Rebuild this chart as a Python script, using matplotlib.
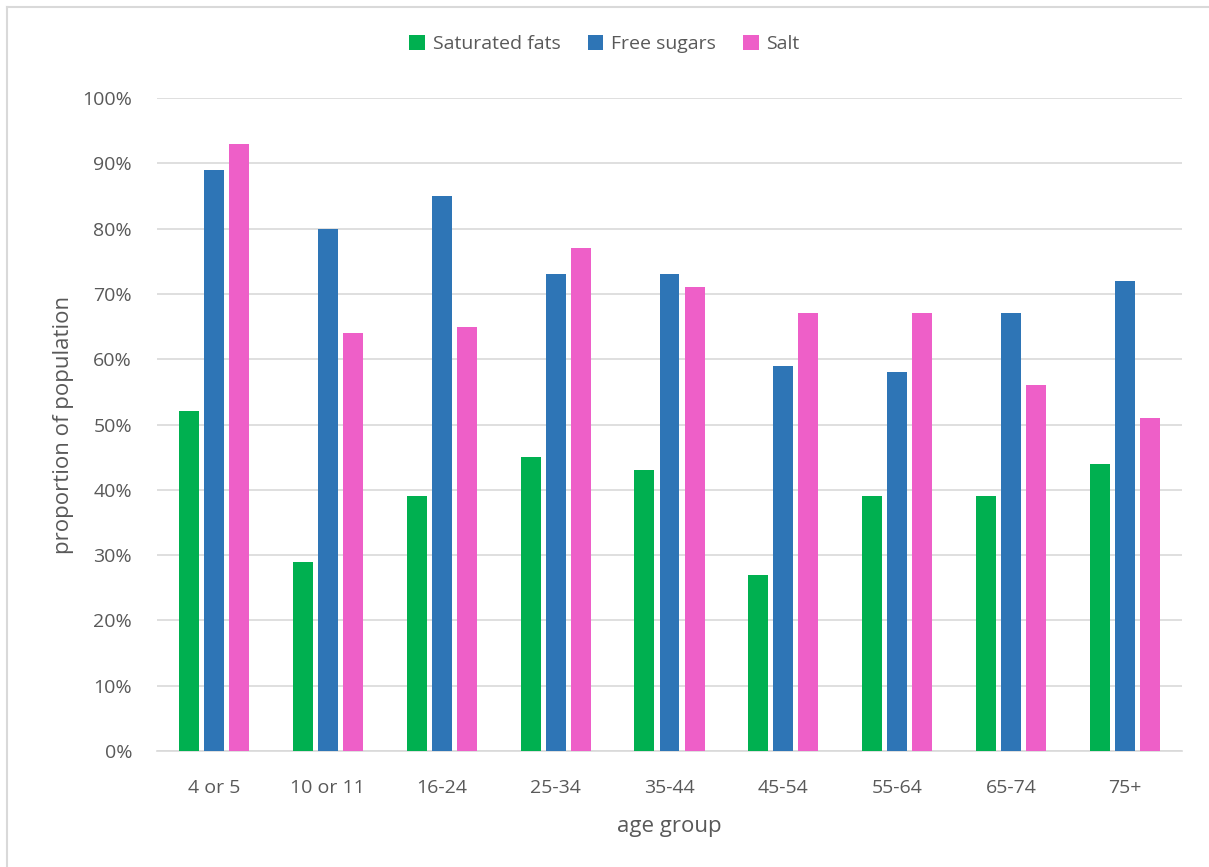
import matplotlib.pyplot as plt
import numpy as np
from matplotlib.lines import Line2D

# data
age_groups = ['4 or 5', '10 or 11', '16-24', '25-34', '35-44', '45-54', '55-64', '65-74', '75+']
saturated_fats = [52, 29, 39, 45, 43, 27, 39, 39, 44]
free_sugars = [89, 80, 85, 73, 73, 59, 58, 67, 72]
salt = [93, 64, 65, 77, 71, 67, 67, 56, 51]
series_names = ['Saturated fats', 'Free sugars', 'Salt']
colors = ['#00B050', '#2E75B6', '#EE5FC8']

text_color = '#595959'
plt.rcParams['font.family'] = ['Open Sans', 'DejaVu Sans']

fig = plt.figure(figsize=(12.09, 8.67), dpi=100)
ax = fig.add_axes([157 / 1209, 116 / 867, 1025 / 1209, 653 / 867])

x = np.arange(len(age_groups))
width = 0.175
offset = 0.22
for i, (vals, name, c) in enumerate(zip([saturated_fats, free_sugars, salt], series_names, colors)):
    ax.bar(x + (i - 1) * offset, vals, width, color=c, label=name, zorder=3)

ax.set_xlim(-0.5, len(age_groups) - 0.5)
ax.set_ylim(0, 100)
ax.set_yticks(np.arange(0, 101, 10))
ax.set_yticklabels([f'{v}%' for v in range(0, 101, 10)])
ax.set_xticks(x)
ax.set_xticklabels(age_groups)
ax.grid(axis='y', color='#D9D9D9', linewidth=1.2, zorder=0)
ax.set_axisbelow(True)
for s in ['top', 'right', 'left']:
    ax.spines[s].set_visible(False)
ax.spines['bottom'].set_color('#D9D9D9')
ax.spines['bottom'].set_linewidth(1.2)
ax.tick_params(length=0, labelsize=14, colors=text_color)
ax.tick_params(axis='x', pad=20)
ax.tick_params(axis='y', pad=18)
ax.set_xlabel('age group', fontsize=16, color=text_color, labelpad=14)
ax.set_ylabel('proportion of population', fontsize=16, color=text_color, labelpad=6)

fig.legend(loc='center', bbox_to_anchor=(0.5, 1 - 44 / 867), ncol=3, frameon=False,
           fontsize=14, labelcolor=text_color, handlelength=0.8, handleheight=0.8,
           handletextpad=0.4, columnspacing=1.4)

# chart area border
fig.add_artist(Line2D([7 / 1209, 7 / 1209], [0, 1 - 7 / 867], color='#D9D9D9', linewidth=1.5))
fig.add_artist(Line2D([7 / 1209, 1], [1 - 7 / 867, 1 - 7 / 867], color='#D9D9D9', linewidth=1.5))

fig.savefig('out.png', dpi=100)
